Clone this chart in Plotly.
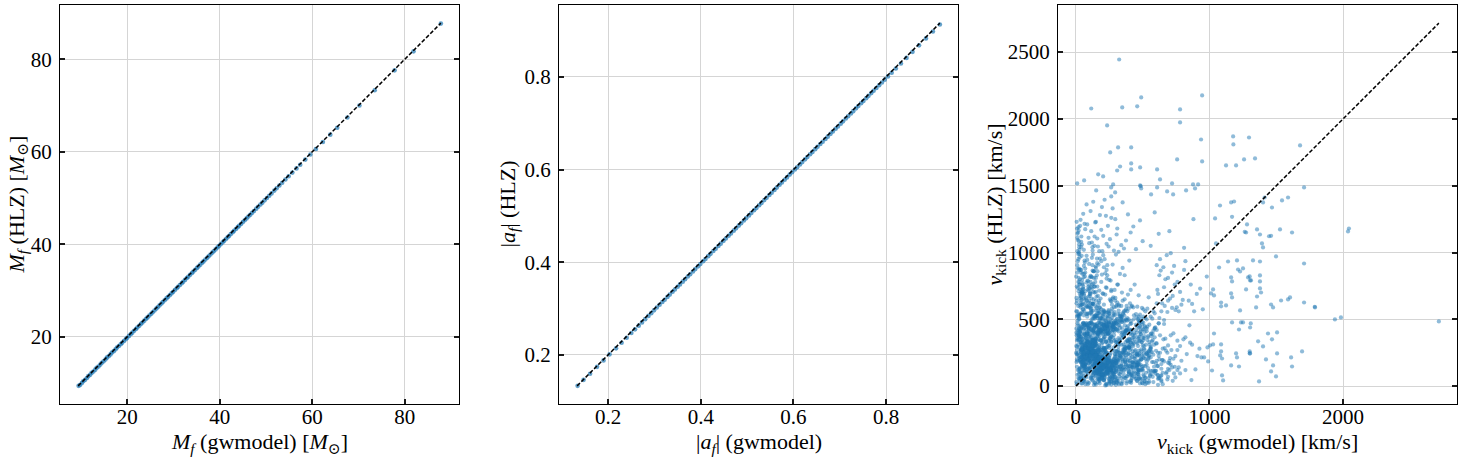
import plotly.graph_objects as go

# ---------------- Panel 1: final mass ----------------
mf_gwmodel = [
    9.5, 9.8, 10.2, 10.5, 10.9, 11.3, 11.6, 12.0, 12.3, 12.7,
    13.1, 13.4, 13.8, 14.2, 14.5, 14.9, 15.3, 15.6, 16.0, 16.4,
    16.7, 17.1, 17.5, 17.8, 18.2, 18.6, 18.9, 19.3, 19.7, 20.0,
    20.4, 20.8, 21.1, 21.5, 21.9, 22.2, 22.6, 23.0, 23.3, 23.7,
    24.1, 24.4, 24.8, 25.2, 25.5, 25.9, 26.3, 26.6, 27.0, 27.4,
    27.7, 28.1, 28.5, 28.8, 29.2, 29.6, 29.9, 30.3, 30.7, 31.0,
    31.4, 31.8, 32.1, 32.5, 32.9, 33.2, 33.6, 34.0, 34.3, 34.7,
    35.1, 35.4, 35.8, 36.2, 36.5, 36.9, 37.3, 37.6, 38.0, 38.4,
    38.7, 39.1, 39.5, 39.8, 40.2, 40.6, 40.9, 41.3, 41.7, 42.0,
    42.4, 42.8, 43.1, 43.5, 43.9, 44.2, 44.6, 45.0, 45.4, 45.8,
    46.2, 46.6, 47.0, 47.4, 47.9, 48.3, 48.8, 49.2, 49.7, 50.2,
    50.7, 51.2, 51.8, 52.3, 52.9, 53.5, 54.2, 54.9, 55.7, 56.6,
    57.4, 58.5, 59.6, 60.8, 62.3, 63.9, 65.4, 67.6, 70.2, 73.5,
    77.8, 81.9, 87.8]
mf_hlz = [
    9.4, 9.6, 10.0, 10.4, 10.7, 11.1, 11.5, 11.8, 12.2, 12.5,
    12.9, 13.3, 13.6, 14.0, 14.4, 14.7, 15.1, 15.5, 15.8, 16.2,
    16.6, 16.9, 17.3, 17.7, 18.0, 18.4, 18.7, 19.1, 19.5, 19.8,
    20.2, 20.6, 20.9, 21.3, 21.7, 22.0, 22.4, 22.8, 23.1, 23.5,
    23.9, 24.2, 24.6, 25.0, 25.3, 25.7, 26.1, 26.4, 26.8, 27.2,
    27.5, 27.9, 28.3, 28.6, 29.0, 29.4, 29.7, 30.1, 30.5, 30.8,
    31.2, 31.6, 31.9, 32.3, 32.7, 33.0, 33.4, 33.8, 34.1, 34.5,
    34.9, 35.2, 35.6, 36.0, 36.3, 36.7, 37.1, 37.4, 37.8, 38.2,
    38.5, 38.9, 39.3, 39.6, 40.0, 40.4, 40.7, 41.1, 41.5, 41.8,
    42.2, 42.6, 42.9, 43.3, 43.7, 44.0, 44.4, 44.8, 45.2, 45.6,
    46.0, 46.4, 46.8, 47.2, 47.7, 48.1, 48.6, 49.0, 49.5, 50.0,
    50.5, 51.0, 51.6, 52.1, 52.7, 53.3, 54.0, 54.7, 55.5, 56.4,
    57.2, 58.3, 59.4, 60.6, 62.1, 63.7, 65.2, 67.4, 70.0, 73.3,
    77.6, 81.7, 87.7]

# ---------------- Panel 2: final spin ----------------
af_gwmodel = [
    0.134, 0.147, 0.161, 0.176, 0.190, 0.203, 0.217, 0.229, 0.240, 0.250,
    0.258, 0.266, 0.273, 0.280, 0.287, 0.293, 0.299, 0.305, 0.311, 0.317,
    0.322, 0.328, 0.333, 0.339, 0.344, 0.350, 0.355, 0.361, 0.366, 0.372,
    0.377, 0.383, 0.388, 0.394, 0.399, 0.405, 0.410, 0.416, 0.421, 0.427,
    0.432, 0.438, 0.443, 0.449, 0.454, 0.460, 0.465, 0.471, 0.476, 0.482,
    0.487, 0.493, 0.498, 0.504, 0.509, 0.515, 0.520, 0.526, 0.531, 0.537,
    0.542, 0.548, 0.553, 0.559, 0.564, 0.570, 0.575, 0.581, 0.586, 0.592,
    0.597, 0.603, 0.608, 0.614, 0.619, 0.625, 0.630, 0.636, 0.641, 0.647,
    0.652, 0.658, 0.663, 0.669, 0.674, 0.680, 0.685, 0.691, 0.696, 0.702,
    0.707, 0.713, 0.718, 0.724, 0.729, 0.735, 0.740, 0.746, 0.751, 0.757,
    0.762, 0.768, 0.773, 0.779, 0.785, 0.791, 0.797, 0.804, 0.812, 0.821,
    0.832, 0.844, 0.857, 0.871, 0.886, 0.901, 0.916]
af_hlz = [
    0.133, 0.146, 0.159, 0.174, 0.188, 0.201, 0.214, 0.226, 0.237, 0.247,
    0.255, 0.263, 0.270, 0.277, 0.284, 0.290, 0.296, 0.302, 0.308, 0.314,
    0.319, 0.325, 0.330, 0.336, 0.341, 0.347, 0.352, 0.358, 0.363, 0.369,
    0.374, 0.380, 0.385, 0.391, 0.396, 0.402, 0.407, 0.413, 0.418, 0.424,
    0.429, 0.435, 0.440, 0.446, 0.451, 0.457, 0.462, 0.468, 0.473, 0.479,
    0.484, 0.490, 0.495, 0.501, 0.506, 0.512, 0.517, 0.523, 0.528, 0.534,
    0.539, 0.545, 0.550, 0.556, 0.561, 0.567, 0.572, 0.578, 0.583, 0.589,
    0.594, 0.600, 0.605, 0.611, 0.616, 0.622, 0.627, 0.633, 0.638, 0.644,
    0.649, 0.655, 0.660, 0.666, 0.671, 0.677, 0.682, 0.688, 0.693, 0.699,
    0.704, 0.710, 0.715, 0.721, 0.726, 0.732, 0.737, 0.743, 0.748, 0.754,
    0.759, 0.765, 0.770, 0.776, 0.782, 0.788, 0.794, 0.801, 0.809, 0.818,
    0.829, 0.841, 0.854, 0.868, 0.883, 0.898, 0.913]

# ---------------- Panel 3: kick velocity (km/s) ----------------
# dense core
vcore_gwmodel = [
    112, 87, 205, 143, 66, 251, 178, 94, 310, 132, 220, 58, 167, 289, 121, 74, 196, 240, 150, 103,
    185, 62, 133, 274, 98, 211, 156, 45, 229, 118, 302, 170, 81, 258, 140, 193, 71, 125, 336, 208,
    149, 237, 90, 181, 264, 55, 127, 199, 108, 283, 162, 76, 218, 136, 246, 99, 172, 320, 60, 154,
    230, 115, 268, 84, 191, 145, 47, 256, 128, 203, 93, 175, 297, 110, 64, 224, 159, 341, 187, 139,
    79, 213, 163, 106, 248, 52, 186, 131, 277, 96, 157, 234, 69, 198, 122, 315, 176, 88, 260, 147,
    201, 134, 57, 292, 117, 183, 244, 73, 160, 215, 101, 270, 142, 85, 233, 168, 50, 306, 124, 190,
    92, 254, 152, 207, 68, 137, 280, 114, 179, 41, 226, 158, 325, 97, 195, 129, 263, 77, 171, 219,
    138, 63, 188, 242, 105, 166, 295, 82, 210, 151, 120, 272, 59, 232, 174, 100, 348, 144, 197, 89,
    253, 126, 177, 70, 222, 161, 109, 287, 135, 194, 54, 239, 153, 83, 266, 119, 206, 148, 312, 95,
    169, 236, 75, 141, 200, 113, 257, 61, 184, 130, 299, 91, 216, 155, 44, 247, 173, 104, 227, 146,
    86, 192, 123, 279, 65, 164, 225, 107, 333, 180, 139, 72, 249, 116, 204, 157, 290, 53, 189, 128,
    212, 102, 261, 150, 78, 235, 172, 119, 304, 67, 182, 245, 93, 163, 214, 136, 48, 275, 111, 198,
    145, 228, 80, 186, 127, 318, 99, 250, 165, 56, 209, 142, 284, 103, 174, 238, 71, 153, 195, 117,
    262, 88, 167, 131, 241, 60, 202, 148, 296, 112, 179, 223, 76, 154, 328, 125, 187, 49, 243, 160,
    97, 218, 140, 268, 82, 176, 110, 231, 63, 199, 158, 286, 121, 73, 255, 144, 208, 101, 171, 314]
vcore_hlz = [
    184, 241, 132, 297, 165, 210, 88, 273, 149, 322, 201, 117, 256, 176, 340, 143, 228, 98, 268, 191,
    125, 309, 218, 155, 262, 76, 195, 286, 139, 233, 171, 352, 108, 246, 203, 130, 281, 164, 222, 92,
    260, 141, 327, 186, 113, 238, 295, 159, 212, 68, 277, 198, 152, 305, 121, 249, 180, 95, 226, 338,
    172, 288, 104, 247, 135, 316, 207, 161, 82, 270, 229, 146, 192, 365, 119, 258, 213, 154, 100, 243,
    298, 158, 232, 183, 127, 276, 204, 344, 111, 253, 168, 91, 317, 216, 147, 197, 283, 236, 129, 174,
    221, 107, 290, 167, 250, 137, 189, 301, 219, 84, 264, 153, 330, 123, 206, 178, 242, 115, 272, 148,
    334, 196, 126, 279, 162, 225, 99, 257, 182, 311, 140, 234, 73, 208, 269, 156, 118, 292, 187, 245,
    145, 272, 209, 133, 318, 177, 239, 106, 285, 163, 224, 80, 199, 151, 307, 261, 128, 218, 174, 343,
    102, 237, 169, 299, 150, 211, 274, 136, 193, 320, 97, 248, 186, 227, 120, 266, 157, 358, 204, 131,
    283, 160, 244, 114, 202, 329, 175, 230, 142, 259, 188, 94, 271, 138, 217, 301, 124, 194, 252, 166,
    215, 134, 354, 179, 240, 110, 287, 157, 223, 71, 198, 263, 144, 312, 185, 231, 103, 276, 168, 250,
    152, 294, 122, 266, 208, 174, 87, 242, 328, 190, 139, 220, 277, 116, 254, 162, 307, 181, 235, 128,
    246, 181, 315, 109, 275, 143, 227, 188, 96, 263, 156, 338, 200, 129, 236, 170, 292, 117, 214, 255,
    120, 264, 192, 296, 149, 226, 81, 310, 173, 241, 112, 282, 205, 160, 228, 347, 135, 270, 195, 101,
    284, 142, 238, 178, 323, 125, 258, 196, 149, 291, 217, 85, 247, 171, 132, 300, 209, 267, 154, 186]

vcore2_gwmodel = [
    156, 72, 238, 118, 194, 41, 267, 133, 88, 212, 177, 59, 304, 146, 101, 225, 68, 186, 273, 124,
    203, 96, 148, 36, 259, 171, 114, 282, 63, 197, 139, 241, 80, 168, 326, 107, 219, 53, 152, 289,
    76, 183, 247, 129, 58, 209, 160, 98, 271, 137, 34, 224, 191, 115, 362, 85, 176, 252, 142, 67,
    231, 119, 47, 196, 284, 154, 91, 215, 127, 339, 70, 180, 258, 103, 43, 207, 166, 121, 298, 81,
    135, 262, 93, 174, 57, 226, 149, 312, 108, 190, 246, 66, 161, 383, 126, 214, 77, 199, 140, 274,
    51, 188, 117, 239, 95, 163, 294, 72, 204, 134, 255, 39, 178, 221, 105, 348, 147, 61, 232, 170,
    264, 99, 153, 46, 217, 131, 286, 84, 192, 158, 111, 243, 62, 173, 307, 120, 228, 89, 146, 401,
    107, 229, 175, 64, 268, 141, 36, 211, 98, 187, 322, 127, 250, 74, 166, 201, 115, 279, 55, 182,
    195, 82, 143, 300, 118, 236, 60, 169, 256, 104, 212, 144, 44, 290, 137, 85, 223, 178, 372, 128,
    69, 206, 124, 185, 50, 273, 151, 92, 233, 116, 336, 162, 75, 198, 258, 136, 42, 216, 109, 167,
    247, 113, 189, 79, 155, 219, 40, 281, 132, 94, 204, 170, 316, 58, 240, 121, 183, 426, 100, 148,
    132, 253, 87, 171, 228, 65, 196, 145, 301, 110, 262, 49, 179, 138, 222, 93, 352, 157, 71, 208,
    90, 176, 38, 244, 123, 193, 276, 57, 161, 213, 103, 267, 139, 80, 330, 186, 128, 235, 66, 154,
    224, 141, 270, 97, 182, 52, 238, 118, 299, 164, 73, 201, 130, 255, 45, 189, 411, 106, 172, 285,
    60, 215, 157, 105, 249, 135, 32, 198, 308, 84, 168, 230, 117, 56, 277, 150, 94, 205, 367, 125]
vcore2_hlz = [
    236, 118, 312, 205, 87, 268, 153, 342, 191, 127, 259, 74, 224, 166, 301, 108, 247, 139, 55, 282,
    149, 263, 95, 327, 178, 221, 64, 289, 134, 243, 192, 105, 356, 170, 248, 126, 211, 296, 81, 160,
    310, 173, 58, 238, 145, 287, 99, 214, 267, 121, 186, 331, 79, 252, 143, 226, 38, 305, 167, 199,
    113, 229, 275, 162, 90, 318, 196, 138, 245, 60, 284, 177, 122, 209, 357, 151, 261, 103, 188, 340,
    266, 136, 194, 295, 52, 241, 107, 180, 323, 156, 218, 388, 128, 72, 273, 169, 235, 96, 301, 148,
    187, 84, 249, 119, 278, 206, 141, 362, 165, 94, 233, 274, 48, 193, 137, 255, 309, 219, 110, 174,
    131, 297, 214, 181, 68, 250, 114, 329, 157, 226, 282, 92, 197, 144, 263, 417, 170, 238, 76, 289,
    228, 101, 266, 148, 190, 330, 216, 42, 175, 254, 125, 203, 287, 162, 237, 88, 315, 143, 272, 196,
    86, 245, 171, 130, 299, 201, 158, 274, 65, 227, 112, 338, 183, 240, 147, 393, 209, 118, 264, 62,
    259, 152, 320, 97, 213, 178, 244, 133, 291, 75, 196, 231, 168, 109, 352, 204, 140, 270, 183, 57,
    173, 285, 123, 226, 304, 89, 251, 164, 207, 341, 135, 80, 255, 190, 116, 298, 220, 153, 374, 242,
    318, 127, 260, 204, 146, 283, 70, 233, 119, 276, 188, 153, 342, 98, 216, 171, 250, 128, 296, 46,
    203, 109, 269, 176, 331, 137, 91, 250, 193, 158, 303, 66, 229, 381, 144, 271, 186, 124, 337, 212,
    95, 260, 151, 290, 120, 224, 185, 345, 106, 267, 140, 199, 314, 78, 237, 163, 127, 280, 215, 33,
    244, 174, 115, 303, 138, 262, 196, 83, 155, 325, 212, 100, 277, 166, 60, 230, 391, 142, 187, 258]

# upper rim of the core
vrim_gwmodel = [
    45, 132, 218, 87, 301, 164, 23, 256, 109, 190, 352, 68, 237, 146, 15, 279, 121, 203, 395, 58,
    176, 94, 263, 31, 142, 325, 205, 78, 248, 118, 12, 290, 162, 227, 53, 371, 135, 98, 214, 40,
    283, 150, 64, 229, 112, 38, 198, 341, 127, 81, 268, 171, 20, 246, 104, 315, 186, 56, 423, 140,
    92, 241, 158, 27, 309, 125, 213, 72, 182, 388, 49, 260, 143, 101, 234, 18, 296, 167, 66, 200,
    223, 36, 139, 272, 85, 194, 330, 60, 251, 117, 174, 9, 286, 152, 225, 96, 360, 42, 209, 129,
    155, 287, 76, 211, 33, 128, 244, 186, 59, 319, 102, 169, 407, 26, 232, 145, 84, 266, 191, 115]
vrim_hlz = [
    345, 412, 368, 455, 332, 390, 430, 358, 472, 340, 405, 380, 448, 325, 395, 362, 440, 350, 418, 470,
    375, 440, 335, 402, 460, 348, 385, 425, 338, 465, 355, 410, 372, 445, 330, 398, 460, 365, 428, 390,
    420, 352, 398, 337, 478, 366, 443, 385, 329, 458, 370, 415, 342, 395, 450, 328, 405, 474, 360, 432,
    330, 395, 465, 375, 428, 342, 456, 364, 408, 336, 442, 380, 352, 470, 398, 420, 346, 388, 460, 326,
    462, 372, 345, 408, 390, 450, 338, 426, 360, 476, 400, 342, 383, 452, 332, 415, 368, 435, 355, 400,
    398, 339, 452, 367, 420, 380, 470, 344, 432, 360, 410, 475, 345, 385, 448, 358, 402, 330, 466, 424]

# right flank of the core
vflank_gwmodel = [
    305, 342, 288, 417, 365, 452, 312, 390, 334, 478, 298, 402, 356, 440, 322, 505, 376, 295, 428, 348,
    368, 296, 431, 318, 384, 357, 462, 302, 409, 339, 285, 494, 372, 326, 446, 310, 398, 362, 515, 337,
    290, 405, 348, 471, 316, 380, 440, 299, 361, 419, 330, 486, 308, 395, 353, 457, 283, 374, 425, 341,
    415, 328, 379, 301, 448, 365, 293, 402, 336, 468, 318, 389, 354, 437, 306, 500, 343, 286, 412, 371]
vflank_hlz = [
    45, 120, 210, 85, 270, 160, 25, 240, 130, 60, 305, 190, 95, 225, 15, 150, 285, 70, 175, 250,
    180, 65, 140, 295, 35, 215, 110, 260, 80, 165, 20, 230, 125, 315, 55, 195, 100, 280, 40, 150,
    265, 30, 200, 115, 320, 75, 170, 10, 245, 145, 90, 205, 55, 290, 185, 40, 135, 230, 100, 310,
    90, 250, 20, 175, 135, 60, 220, 300, 105, 190, 40, 155, 275, 70, 235, 115, 15, 200, 325, 165]

# surroundings of the core
vnear_gwmodel = [
    12, 25, 8, 35, 18, 42, 5, 29, 15, 38, 22, 3, 31, 10, 27, 46, 20, 6, 33, 14,
    360, 395, 420, 372, 445, 388, 410, 465, 378, 432, 355, 402, 458, 383, 426, 367, 440, 398, 476, 414,
    145, 210, 88, 265, 172, 56, 230, 120, 305, 190, 72, 248, 160, 98, 282, 135, 215, 64, 178, 252,
    28, 16, 40, 9, 22, 36, 4, 31, 13, 44, 19, 7, 26, 38, 11, 33, 17, 2, 24, 41,
    130, 75, 220, 162, 290, 105, 245, 188, 60, 270, 140, 330, 95, 205, 175, 50, 238, 118, 300, 155,
    350, 384, 318, 406, 342, 372, 430, 328, 396, 362, 450, 338, 414, 376, 344, 468, 390, 356, 424, 332,
    20, 48, 34, 62, 14, 55, 27, 70, 40, 8, 52, 30, 65, 18, 44, 75, 24, 58, 36, 12,
    185, 240, 110, 280, 150, 320, 82, 215, 265, 128, 195, 345, 100, 255, 170, 295, 138, 225, 68, 310,
    380, 412, 366, 438, 392, 352, 470, 404, 374, 425, 358, 452, 386, 418, 370, 434, 398, 362, 490, 408,
    90, 165, 230, 45, 128, 285, 198, 62, 150, 258, 110, 340, 178, 80, 220, 305, 140, 36, 250, 192,
    10, 30, 6, 22, 42, 15, 35, 3, 26, 48, 18, 38, 9, 28, 52, 13, 33, 4, 24, 45,
    270, 210, 315, 160, 355, 240, 120, 290, 185, 330, 95, 262, 205, 300, 150, 345, 225, 175, 285, 130]
vnear_hlz = [
    85, 210, 145, 330, 60, 275, 180, 410, 120, 245, 365, 30, 195, 295, 450, 160, 225, 380, 105, 490,
    120, 245, 180, 330, 95, 285, 400, 160, 215, 365, 70, 305, 140, 440, 260, 195, 350, 110, 230, 420,
    22, 45, 30, 12, 55, 38, 18, 48, 27, 60, 15, 35, 52, 25, 42, 10, 58, 32, 20, 50,
    40, 310, 175, 520, 90, 260, 400, 135, 470, 220, 350, 15, 290, 445, 190, 60, 380, 250, 125, 330,
    420, 470, 395, 510, 440, 385, 480, 415, 530, 455, 400, 490, 435, 540, 410, 465, 390, 500, 425, 450,
    35, 420, 270, 150, 480, 60, 330, 210, 90, 390, 180, 505, 25, 250, 360, 120, 450, 310, 75, 230,
    520, 160, 60, 390, 245, 470, 110, 310, 20, 200, 355, 430, 140, 540, 280, 75, 500, 180, 410, 235,
    480, 390, 430, 460, 520, 410, 395, 550, 35, 505, 60, 400, 470, 28, 440, 490, 515, 15, 455, 420,
    300, 40, 455, 210, 130, 375, 85, 270, 500, 180, 240, 60, 345, 155, 420, 110, 290, 530, 200, 390,
    15, 30, 8, 52, 40, 25, 62, 45, 12, 35, 58, 20, 48, 68, 5, 38, 28, 72, 18, 55,
    560, 130, 240, 380, 75, 455, 180, 300, 505, 20, 410, 100, 270, 350, 150, 530, 215, 430, 55, 320,
    510, 460, 540, 380, 495, 420, 470, 555, 400, 525, 445, 370, 500, 480, 530, 435, 390, 545, 465, 410]

# medium-density band above the core
vmid_gwmodel = [
    85, 210, 145, 330, 40, 275, 180, 410, 120, 245, 365, 60, 195, 295, 520, 160, 225, 380, 105, 470,
    130, 250, 70, 310, 190, 440, 25, 280, 155, 350, 95, 230, 560, 175, 320, 50, 265, 400, 115, 205,
    300, 140, 455, 75, 235, 180, 605, 110, 270, 345, 30, 215, 150, 385, 260, 90, 495, 165, 330, 240,
    55, 190, 285, 125, 420, 220, 100, 340, 170, 255, 15, 375, 135, 305, 205, 545, 80, 290, 160, 430,
    235, 360, 105, 200, 45, 315, 150, 480, 270, 120, 395, 185, 65, 250, 340, 140, 580, 220, 95, 300,
    170, 35, 265, 415, 130, 225, 350, 80, 190, 505, 280, 115, 240, 20, 325, 160, 435, 210, 60, 370,
    110, 290, 175, 60, 245, 390, 140, 320, 205, 85, 460, 265, 30, 195, 355, 125, 230, 590, 150, 310,
    260, 70, 215, 340, 120, 180, 450, 95, 285, 230, 10, 405, 160, 50, 275, 535, 200, 135, 365, 250]
vmid_hlz = [
    520, 610, 780, 540, 870, 655, 590, 720, 960, 570, 830, 690, 505, 640, 560, 920, 740, 600, 815, 680,
    705, 545, 850, 625, 575, 760, 990, 530, 670, 885, 600, 805, 520, 715, 565, 770, 635, 940, 550, 690,
    595, 745, 515, 660, 905, 555, 620, 825, 580, 700, 530, 950, 640, 560, 790, 725, 585, 675, 840, 510,
    615, 780, 540, 865, 600, 685, 755, 525, 910, 650, 735, 575, 810, 605, 555, 665, 975, 720, 545, 590,
    830, 560, 690, 525, 645, 760, 885, 535, 610, 730, 580, 655, 940, 795, 515, 700, 560, 845, 625, 985,
    545, 620, 710, 595, 860, 520, 640, 775, 935, 575, 665, 820, 550, 710, 600, 745, 530, 890, 655, 565,
    780, 530, 625, 900, 560, 685, 745, 610, 980, 540, 595, 720, 660, 835, 550, 615, 870, 545, 705, 760,
    640, 710, 560, 600, 815, 955, 540, 670, 590, 735, 850, 620, 525, 760, 910, 580, 695, 860, 650, 540]

vmid2_gwmodel = [
    64, 138, 212, 29, 287, 176, 95, 354, 121, 243, 48, 196, 310, 157, 82, 267, 421, 133, 225, 15,
    189, 57, 262, 114, 331, 148, 21, 234, 172, 395, 87, 205, 129, 278, 43, 164, 497, 106, 251, 143,
    118, 241, 75, 182, 346, 26, 217, 155, 292, 99, 380, 168, 61, 228, 135, 314, 198, 37, 453, 110,
    273, 150, 34, 207, 102, 259, 183, 71, 325, 124, 230, 53, 167, 432, 92, 199, 143, 296, 18, 247,
    141, 68, 225, 297, 117, 191, 39, 268, 158, 78, 215, 363, 126, 252, 56, 178, 520, 97, 233, 162,
    83, 210, 146, 31, 275, 112, 194, 340, 67, 158, 238, 104, 408, 173, 49, 284, 131, 220, 87, 307,
    229, 104, 44, 188, 262, 136, 79, 319, 170, 22, 245, 118, 385, 153, 206, 58, 284, 141, 475, 96,
    160, 289, 73, 214, 127, 41, 240, 181, 349, 93, 156, 265, 110, 33, 208, 572, 134, 302, 62, 187,
    52, 176, 257, 120, 201, 85, 332, 147, 26, 226, 168, 410, 99, 274, 139, 63, 245, 190, 115, 620,
    198, 126, 305, 70, 236, 163, 46, 281, 107, 219, 375, 150, 90, 258, 179, 38, 328, 124, 465, 211]
vmid2_hlz = [
    455, 520, 410, 690, 475, 585, 430, 540, 760, 445, 610, 395, 505, 830, 470, 560, 420, 650, 490, 880,
    415, 725, 480, 570, 435, 895, 530, 445, 640, 500, 790, 455, 565, 420, 975, 610, 460, 700, 525, 440,
    535, 410, 650, 470, 520, 760, 425, 585, 460, 915, 495, 400, 680, 550, 430, 480, 1010, 545, 450, 620,
    440, 595, 870, 465, 730, 415, 510, 625, 455, 1040, 480, 575, 420, 500, 785, 530, 445, 660, 600, 470,
    505, 820, 450, 430, 560, 415, 700, 470, 955, 540, 425, 485, 615, 400, 745, 460, 510, 590, 435, 860,
    640, 475, 530, 800, 445, 580, 410, 495, 925, 450, 520, 675, 465, 435, 555, 480, 765, 415, 595, 500,
    465, 545, 720, 420, 500, 860, 600, 455, 430, 1000, 480, 655, 510, 405, 570, 815, 440, 525, 470, 715,
    400, 470, 590, 440, 985, 665, 420, 505, 480, 745, 565, 430, 690, 540, 455, 505, 615, 470, 840, 425,
    700, 490, 440, 600, 425, 945, 520, 460, 780, 410, 565, 485, 640, 450, 1050, 560, 430, 510, 740, 470,
    430, 620, 470, 880, 455, 525, 705, 440, 590, 495, 415, 810, 545, 460, 420, 640, 480, 905, 500, 560]

# medium-density tail to the right of the core
vright_gwmodel = [
    460, 520, 485, 610, 545, 700, 475, 580, 655, 505, 760, 530, 490, 625, 565, 830, 470, 595, 680, 510,
    540, 475, 640, 505, 720, 560, 455, 590, 870, 520, 615, 480, 690, 550, 465, 745, 575, 500, 660, 925,
    495, 600, 465, 535, 780, 570, 510, 640, 480, 715, 545, 620, 455, 805, 525, 585, 690, 470, 555, 960,
    630, 485, 560, 725, 500, 595, 460, 670, 530, 850, 575, 490, 615, 545, 740, 470, 520, 650, 605, 985,
    470, 545, 500, 585, 660, 480, 525, 790, 560, 615, 455, 700, 510, 640, 575, 895, 490, 535, 620, 730,
    515, 460, 590, 645, 495, 555, 820, 475, 610, 530, 685, 465, 570, 505, 940, 600, 485, 675, 540, 760,
    580, 500, 470, 630, 545, 710, 490, 565, 855, 520, 600, 460, 650, 535, 480, 770, 555, 690, 510, 910,
    475, 560, 530, 605, 455, 735, 515, 580, 665, 495, 625, 540, 865, 470, 590, 505, 705, 550, 635, 990]
vright_hlz = [
    320, 150, 410, 85, 260, 190, 480, 30, 350, 220, 120, 500, 275, 60, 395, 240, 165, 440, 105, 300,
    200, 370, 45, 520, 140, 285, 90, 430, 310, 15, 250, 340, 175, 460, 230, 65, 390, 125, 495, 280,
    55, 265, 180, 445, 95, 335, 210, 130, 405, 270, 25, 470, 155, 350, 240, 110, 305, 520, 75, 215,
    380, 160, 295, 40, 425, 115, 245, 355, 185, 455, 70, 330, 10, 260, 145, 490, 205, 100, 420, 290,
    105, 225, 360, 145, 465, 20, 310, 190, 255, 80, 400, 170, 280, 35, 345, 125, 505, 235, 60, 395,
    270, 40, 435, 195, 330, 85, 365, 245, 150, 410, 50, 300, 180, 475, 215, 115, 385, 265, 135, 340,
    415, 305, 120, 250, 60, 380, 200, 90, 325, 440, 170, 230, 15, 345, 485, 140, 275, 70, 360, 225,
    155, 390, 25, 320, 240, 95, 450, 180, 285, 130, 510, 365, 45, 265, 110, 425, 210, 330, 75, 185]

vright2_gwmodel = [
    385, 442, 510, 368, 476, 553, 415, 620, 398, 487, 530, 445, 710, 372, 465, 590, 425, 500, 650, 410,
    455, 395, 560, 480, 362, 615, 435, 520, 405, 780, 470, 540, 388, 495, 675, 425, 460, 570, 378, 515,
    420, 505, 375, 595, 450, 535, 690, 400, 485, 440, 625, 365, 560, 475, 745, 415, 520, 390, 600, 455,
    490, 380, 545, 430, 660, 470, 402, 580, 355, 515, 445, 820, 495, 410, 565, 460, 640, 392, 530, 478,
    365, 470, 425, 640, 508, 385, 575, 450, 730, 412, 495, 548, 432, 605, 370, 525, 462, 685, 418, 550,
    440, 585, 398, 505, 470, 760, 425, 545, 382, 615, 488, 455, 530, 405, 700, 472, 560, 395, 650, 512]
vright2_hlz = [
    140, 260, 75, 390, 185, 310, 45, 225, 355, 120, 430, 205, 160, 290, 90, 365, 240, 20, 280, 175,
    330, 105, 215, 450, 270, 150, 395, 60, 235, 300, 125, 375, 185, 480, 95, 310, 170, 255, 415, 35,
    215, 345, 160, 95, 420, 250, 130, 290, 50, 380, 200, 275, 115, 340, 225, 470, 65, 195, 320, 145,
    260, 415, 110, 300, 185, 55, 350, 235, 140, 405, 270, 120, 25, 210, 375, 155, 80, 325, 245, 440,
    295, 70, 385, 165, 245, 340, 115, 460, 205, 280, 145, 35, 320, 190, 410, 100, 365, 250, 60, 230,
    180, 310, 425, 85, 355, 270, 140, 210, 490, 55, 390, 240, 160, 330, 120, 435, 280, 150, 195, 375]

# sparse region between 600 and 1000 km/s
vsparse_gwmodel = [
    610, 720, 655, 845, 690, 770, 630, 905, 740, 665, 810, 705, 950, 625, 780, 680, 870, 735, 640, 760,
    690, 820, 615, 745, 980, 660, 790, 710, 885, 635, 725, 670, 930, 755, 605, 800, 685, 860, 720, 645]
vsparse_hlz = [
    720, 585, 890, 640, 810, 560, 950, 690, 760, 600, 870, 655, 575, 830, 705, 980, 615, 900, 560, 780,
    640, 935, 690, 570, 820, 740, 610, 995, 560, 865, 675, 800, 730, 590, 905, 645, 555, 760, 850, 620]

# upper band (1000-1450 km/s HLZ)
vup_gwmodel = [
    25, 140, 85, 230, 310, 55, 175, 410, 120, 265, 20, 360, 195, 95, 500, 150, 285, 45, 620, 215,
    340, 110, 70, 255, 180, 450, 35, 305, 130, 560, 240, 15, 390, 165, 700, 60, 275, 205, 480, 100,
    320, 145, 12, 225, 375, 80, 810, 190, 265, 40, 430, 125, 590, 295, 160, 350, 65, 245, 880, 115]
vup_hlz = [
    1040, 1120, 1210, 1065, 1180, 1290, 1010, 1150, 1075, 1260, 1190, 1030, 1340, 1110, 1085, 1230, 1015, 1060, 1140, 1395,
    1055, 1310, 1175, 1100, 1280, 1025, 1245, 1135, 1380, 1050, 1200, 1095, 1285, 1045, 1160, 1020, 1330, 1125, 1240, 1070,
    1005, 1225, 1140, 1275, 1090, 1360, 1035, 1170, 1420, 1080, 1195, 1015, 1300, 1250, 1105, 1375, 1215, 1045, 1250, 1160]

# column of points near zero gwmodel kick
vleft_gwmodel = [
    5, 18, 32, 10, 45, 24, 3, 38, 15, 52, 28, 8, 41, 20, 35, 12, 48, 26, 6, 30,
    14, 44, 22, 2, 36, 17, 55, 9, 31, 25, 40, 4, 19, 47, 11, 33, 27, 7, 50, 21]
vleft_hlz = [
    620, 780, 1200, 905, 690, 1060, 560, 850, 1150, 730, 965, 640, 1120, 810, 590, 1010, 700, 880, 1230, 760,
    935, 610, 1085, 820, 675, 990, 575, 1180, 725, 870, 1040, 660, 950, 795, 1110, 605, 1020, 745, 840, 1165]

# isolated outliers
vout_gwmodel = [
    324, 489, 945, 115, 347, 459, 780, 780, 234, 1177,
    1179, 1296, 937, 257, 316, 414, 945, 758, 1124, 1199,
    1259, 1341, 414, 331, 309, 414, 481, 608, 167, 204,
    62, 10, 630, 720, 279, 481, 485, 877, 915, 152,
    264, 294, 489, 608, 683, 825, 892, 563, 728, 1678,
    1708, 1543, 1588, 1468, 1401, 1528, 1618, 1378, 1446, 1461,
    1393, 1401, 2037, 2044, 1498, 1326, 1378, 1708, 1301, 1311,
    1378, 1378, 1378, 1386, 1356, 1349, 1461, 1476, 1536, 1588,
    1603, 1708, 1790, 1939, 1984, 2717, 1309, 1438, 1506, 1468,
    1364, 1401, 1301, 1301, 1506, 1693, 1423, 1611, 1476, 1618,
    1461, 1498, 1371, 1079, 1162, 1184, 1281, 1274, 1356, 1049,
    1139, 1206, 1214, 1229, 1251, 1072, 1289, 1304, 1162, 1169,
    1027, 1012, 1034, 1162, 1169, 1274, 1087, 1087, 1124, 1229,
    1169, 1236, 1251, 1221, 1304, 1034, 1027, 1004, 1087, 1087,
    1080, 1094, 1199, 1206, 1304, 1162, 1221, 1094, 1102, 1019,
    1042, 1169, 1264, 1788, 1413]
vout_hlz = [
    2445, 2161, 2176, 2078, 2086, 2094, 2071, 1974, 1951, 1869,
    1809, 1861, 1846, 1749, 1787, 1787, 1682, 1697, 1652, 1652,
    1697, 1704, 1667, 1644, 1614, 1622, 1637, 1622, 1585, 1570,
    1540, 1517, 1547, 1517, 1510, 1502, 1497, 1510, 1510, 1465,
    1487, 1450, 1480, 1487, 1457, 1465, 1480, 1435, 1435, 1802,
    1487, 1390, 1412, 1337, 1375, 1173, 1150, 1135, 1122, 1125,
    1068, 1038, 1158, 1180, 971, 941, 933, 918, 821, 791,
    829, 784, 731, 701, 671, 589, 611, 589, 641, 649,
    664, 626, 589, 499, 514, 484, 469, 394, 402, 350,
    335, 297, 260, 245, 245, 260, 200, 215, 155, 147,
    110, 73, 35, 1352, 1375, 1382, 1210, 1150, 1173, 1068,
    933, 941, 873, 858, 881, 888, 814, 791, 814, 784,
    724, 694, 679, 694, 664, 724, 626, 597, 604, 567,
    477, 477, 477, 424, 439, 394, 312, 305, 312, 260,
    230, 207, 245, 215, 245, 155, 147, 80, 43, 117,
    1255, 1267, 1155, 594, 1412]

# tick values
mf_ticks = [20, 40, 60, 80]
af_ticks = [0.2, 0.4, 0.6, 0.8]
vk_xticks = [0, 1000, 2000]
vk_yticks = [0, 500, 1000, 1500, 2000, 2500]

# ---------------- assemble ----------------
def pairs(xs, ys):
    n = min(len(xs), len(ys))
    return list(xs[:n]), list(ys[:n])

p1x, p1y = pairs(mf_gwmodel, mf_hlz)
p2x, p2y = pairs(af_gwmodel, af_hlz)
p3x, p3y = [], []
for gx, hy in [(vcore_gwmodel, vcore_hlz), (vcore2_gwmodel, vcore2_hlz),
               (vrim_gwmodel, vrim_hlz), (vflank_gwmodel, vflank_hlz),
               (vnear_gwmodel, vnear_hlz), (vmid_gwmodel, vmid_hlz),
               (vmid2_gwmodel, vmid2_hlz), (vright_gwmodel, vright_hlz),
               (vright2_gwmodel, vright2_hlz), (vsparse_gwmodel, vsparse_hlz),
               (vup_gwmodel, vup_hlz), (vleft_gwmodel, vleft_hlz),
               (vout_gwmodel, vout_hlz)]:
    a, b = pairs(gx, hy)
    p3x += a
    p3y += b

W, H = 1462, 462
BLUE = "#1f77b4"
FONT = "Liberation Serif, DejaVu Serif, serif"

fig = go.Figure()

panels = [
    (p1x, p1y, "x", "y", 4.6, 0.7),
    (p2x, p2y, "x2", "y2", 4.6, 0.7),
    (p3x, p3y, "x3", "y3", 4.2, 0.5),
]
ranges = []
for xs, ys, xa, ya, msize, mop in panels:
    fig.add_trace(go.Scatter(
        x=xs, y=ys, mode="markers", xaxis=xa, yaxis=ya,
        marker=dict(color=BLUE, size=msize, opacity=mop, line=dict(width=0)),
        showlegend=False, hoverinfo="skip"))
    lo = min(min(xs), min(ys))
    hi = max(max(xs), max(ys))
    fig.add_trace(go.Scatter(
        x=[lo, hi], y=[lo, hi], mode="lines", xaxis=xa, yaxis=ya,
        line=dict(color="black", width=1.5, dash="4px,2px"),
        showlegend=False, hoverinfo="skip"))
    pad = 0.05 * (hi - lo)
    ranges.append([lo - pad, hi + pad])

ydom = [1 - 404 / H, 1 - 5 / H]
xdoms = [[60 / W, 459 / W], [559 / W, 958 / W], [1058 / W, 1457 / W]]
xticks = [mf_ticks, af_ticks, vk_xticks]
yticks = [mf_ticks, af_ticks, vk_yticks]

common = dict(
    showline=True, linecolor="black", linewidth=1.2,
    ticks="inside", ticklen=5, tickwidth=1.6, tickcolor="#1a1a1a",
    showgrid=True, gridcolor="#d5d5d5", gridwidth=1, zeroline=False,
    tickfont=dict(family=FONT, size=21, color="black"),
)
layout = dict(
    width=W, height=H, autosize=False,
    margin=dict(l=0, r=0, t=0, b=0),
    paper_bgcolor="white", plot_bgcolor="white",
)
for i in range(3):
    sx = "" if i == 0 else str(i + 1)
    layout["xaxis" + sx] = dict(
        common, domain=xdoms[i], anchor="y" + sx, range=ranges[i],
        tickvals=xticks[i], mirror=True, ticklabelstandoff=-6)
    layout["yaxis" + sx] = dict(
        common, domain=ydom, anchor="x" + sx, range=ranges[i],
        tickvals=yticks[i], mirror="ticks", ticklabelstandoff=3)
fig.update_layout(**layout)

def ann(text, xpx, ypx, angle=0):
    fig.add_annotation(
        text=text, xref="paper", yref="paper", x=xpx / W, y=1 - ypx / H,
        xanchor="center", yanchor="middle", showarrow=False, textangle=angle,
        font=dict(family=FONT, size=22, color="black"))

ann("<i>M</i><sub><i>f</i></sub> (gwmodel) [<i>M</i><sub>⊙</sub>]", 259.5, 443)
ann("<i>M</i><sub><i>f</i></sub> (HLZ) [<i>M</i><sub>⊙</sub>]", 17, 204.5, -90)
ann("|<i>a</i><sub><i>f</i></sub>| (gwmodel)", 758.5, 443)
ann("|<i>a</i><sub><i>f</i></sub>| (HLZ)", 508, 204.5, -90)
ann("<i>v</i><sub>kick</sub> (gwmodel) [km/s]", 1257.5, 443)
ann("<i>v</i><sub>kick</sub> (HLZ) [km/s]", 995, 204.5, -90)

fig.write_html("out.html")
